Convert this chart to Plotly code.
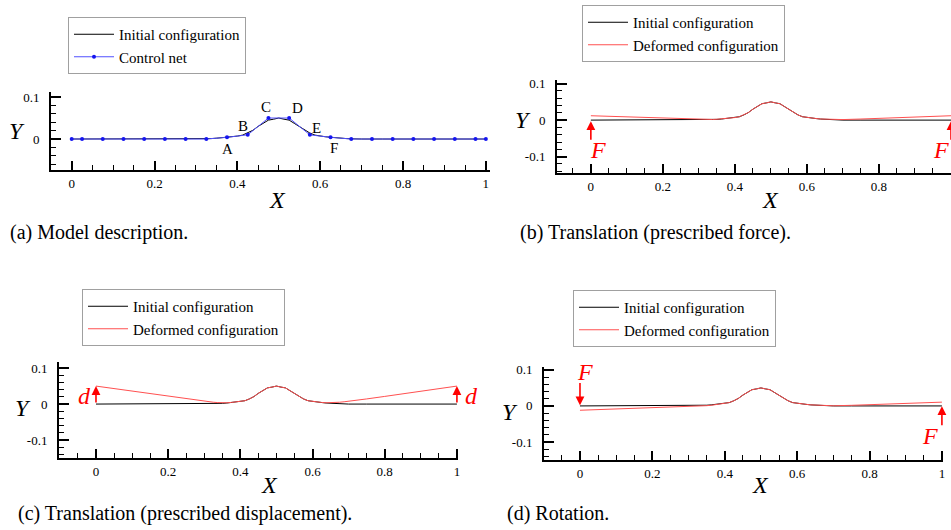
import plotly.graph_objects as go

# ---------------- data ----------------
curve_x = [0, 0.05, 0.1, 0.15, 0.2, 0.25, 0.3, 0.3125, 0.325, 0.3375, 0.35, 0.3625, 0.375, 0.3875,
           0.4, 0.4125, 0.425, 0.4375, 0.45, 0.4625, 0.475, 0.4875, 0.5, 0.5125, 0.525, 0.5375,
           0.55, 0.5625, 0.575, 0.5875, 0.6, 0.6125, 0.625, 0.6375, 0.65, 0.6625, 0.675, 0.6875,
           0.7, 0.75, 0.8, 0.85, 0.9, 0.95, 1.0]

initial_y = [0, 0, 0, 0, 0, 0, 0, 0.0001, 0.0005, 0.0011, 0.002, 0.0029, 0.0043, 0.0054,
             0.007, 0.0093, 0.0143, 0.0208, 0.03, 0.0372, 0.045, 0.0472, 0.05, 0.0472, 0.045, 0.0372,
             0.03, 0.0208, 0.0143, 0.0093, 0.007, 0.0054, 0.0043, 0.0029, 0.002, 0.0011, 0.0005, 0.0001,
             0, 0, 0, 0, 0, 0, 0]

force_y = [0.012, 0.0102, 0.0084, 0.0066, 0.0048, 0.003, 0.0015, 0.0014, 0.0015, 0.0018, 0.0024, 0.0031, 0.0044, 0.0054,
           0.007, 0.0093, 0.0143, 0.0208, 0.03, 0.0372, 0.045, 0.0472, 0.05, 0.0472, 0.045, 0.0372,
           0.03, 0.0208, 0.0143, 0.0093, 0.007, 0.0054, 0.0044, 0.0031, 0.0024, 0.0018, 0.0015, 0.0014,
           0.0015, 0.003, 0.0048, 0.0066, 0.0084, 0.0102, 0.012]

disp_y = [0.05, 0.0428, 0.0356, 0.0284, 0.0213, 0.0143, 0.0078, 0.0064, 0.0051, 0.0041, 0.0035, 0.0036, 0.0045, 0.0055,
          0.007, 0.0093, 0.0143, 0.0208, 0.03, 0.0372, 0.045, 0.0472, 0.05, 0.0472, 0.045, 0.0372,
          0.03, 0.0208, 0.0143, 0.0093, 0.007, 0.0055, 0.0045, 0.0036, 0.0035, 0.0041, 0.0051, 0.0064,
          0.0078, 0.0143, 0.0213, 0.0284, 0.0356, 0.0428, 0.05]

rot_y = [-0.012, -0.0104, -0.0087, -0.0071, -0.0055, -0.0038, -0.0021, -0.0016, -0.001, -0.0003, 0.0007, 0.0018, 0.0034, 0.0048,
         0.0066, 0.0093, 0.0143, 0.0208, 0.03, 0.0372, 0.045, 0.0472, 0.05, 0.0472, 0.045, 0.0372,
         0.03, 0.0208, 0.0143, 0.0093, 0.007, 0.0055, 0.0044, 0.003, 0.0021, 0.0012, 0.0007, 0.0004,
         0.0004, 0.0017, 0.0035, 0.0053, 0.007, 0.0087, 0.0105]

net_x = [0, 0.025, 0.075, 0.125, 0.175, 0.225, 0.275, 0.325, 0.375, 0.425, 0.475, 0.525,
         0.575, 0.625, 0.675, 0.725, 0.775, 0.825, 0.875, 0.925, 0.975, 1.0]
net_y = [0, 0, 0, 0, 0, 0, 0, 0, 0.004, 0.01, 0.05, 0.05, 0.01, 0.004, 0, 0, 0, 0, 0, 0, 0, 0]

point_labels = ["A", "B", "C", "D", "E", "F"]
point_label_idx = [8, 9, 10, 11, 12, 13]

x_tickvals = [0, 0.2, 0.4, 0.6, 0.8, 1]
x_ticktext = ["0", "0.2", "0.4", "0.6", "0.8", "1"]
y_tickvals = [-0.1, 0, 0.1]
y_ticktext = ["-0.1", "0", "0.1"]

captions = ["(a) Model description.", "(b) Translation (prescribed force).",
            "(c) Translation (prescribed displacement).", "(d) Rotation."]
legend_names = ["Initial configuration", "Control net", "Deformed configuration"]

# ---------------- style ----------------
FONT = "Liberation Serif"
W, H = 951, 530
RED = "#ff5050"
BLUE = "#5050ff"
X_MINOR_STEP = 0.05
Y_MINOR_STEP = 0.02

def px(x):
    return x / W

def py(y):
    return 1 - y / H

fig = go.Figure()

panels = {
    1: dict(xd=(51, 490), yd=(92, 170), xr=[-0.05, 1.01], yr=[-0.0738, 0.112]),
    2: dict(xd=(557, 951), yd=(80, 173), xr=[-0.094, 1.0], yr=[-0.145, 0.11]),
    3: dict(xd=(59, 458), yd=(362, 458), xr=[-0.1025, 1.003], yr=[-0.15, 0.117]),
    4: dict(xd=(544, 943), yd=(367, 460), xr=[-0.0994, 1.003], yr=[-0.15, 0.108]),
}

tickfont = dict(family=FONT, size=13, color="black")
hidden = dict(showline=False, showgrid=False, zeroline=False, showticklabels=False, ticks="")

for i, p in panels.items():
    sx = "" if i == 1 else str(i)
    xl, xr = p["xd"]
    yt, yb = p["yd"]
    xdom = [px(xl), min(1, px(xr))]
    ydom = [py(yb), py(yt)]
    xa = dict(domain=xdom, range=p["xr"], anchor="y" + sx,
              showline=True, linecolor="black", linewidth=2, showgrid=False, zeroline=False,
              tickfont=tickfont, ticks="inside", ticklen=9, tickwidth=2, tickcolor="black",
              tickmode="array", tickvals=x_tickvals, ticktext=x_ticktext)
    ya = dict(domain=ydom, range=p["yr"], anchor="x" + sx,
              showline=True, linecolor="black", linewidth=2, showgrid=False, zeroline=False,
              tickfont=tickfont, ticks="outside", ticklen=7, tickwidth=1, tickcolor="rgba(0,0,0,0)",
              tickmode="array", tickvals=y_tickvals, ticktext=y_ticktext)
    fig.update_layout(**{"xaxis" + sx: xa, "yaxis" + sx: ya})

    # thin strip subplots whose grid lines form the inward tick marks
    base = 5 + (i - 1) * 4
    strips = [
        # (x-grid?, length px, width px, tick spec)
        ("x", 9, 2, dict(tickmode="array", tickvals=x_tickvals)),
        ("x", 5, 1, dict(tickmode="linear", tick0=0, dtick=X_MINOR_STEP)),
        ("y", 10, 2, dict(tickmode="array", tickvals=y_tickvals)),
        ("y", 5, 1, dict(tickmode="linear", tick0=0, dtick=Y_MINOR_STEP)),
    ]
    for k, (kind, length, width, spec) in enumerate(strips):
        n = str(base + k)
        if kind == "x":
            sxa = dict(domain=xdom, range=p["xr"], anchor="y" + n, **hidden)
            sxa.update(spec)
            sxa.update(showgrid=True, gridcolor="black", gridwidth=width)
            sya = dict(domain=[py(yb), py(yb - length)], range=[0, 1], anchor="x" + n, **hidden)
        else:
            sxa = dict(domain=[px(xl), px(xl + length)], range=[0, 1], anchor="y" + n, **hidden)
            sya = dict(domain=ydom, range=p["yr"], anchor="x" + n, **hidden)
            sya.update(spec)
            sya.update(showgrid=True, gridcolor="black", gridwidth=width)
        fig.update_layout(**{"xaxis" + n: sxa, "yaxis" + n: sya})
        fig.add_trace(go.Scatter(x=[], y=[], xaxis="x" + n, yaxis="y" + n, mode="lines",
                                 showlegend=False, hoverinfo="skip"))

# ---------------- traces ----------------
fig.add_trace(go.Scatter(x=curve_x, y=initial_y, mode="lines", name=legend_names[0],
                         line=dict(color="black", width=1), xaxis="x", yaxis="y", legend="legend"))
fig.add_trace(go.Scatter(x=net_x, y=net_y, mode="lines+markers", name=legend_names[1],
                         line=dict(color=BLUE, width=1), marker=dict(color="#1515f0", size=4),
                         xaxis="x", yaxis="y", legend="legend"))

deformed = {2: force_y, 3: disp_y, 4: rot_y}
for i, yy in deformed.items():
    sx = str(i)
    lg = "legend" + sx
    fig.add_trace(go.Scatter(x=curve_x, y=initial_y, mode="lines", name=legend_names[0],
                             line=dict(color="black", width=1), xaxis="x" + sx, yaxis="y" + sx, legend=lg))
    fig.add_trace(go.Scatter(x=curve_x, y=yy, mode="lines", name=legend_names[2],
                             line=dict(color=RED, width=1), xaxis="x" + sx, yaxis="y" + sx, legend=lg))

# ---------------- legends ----------------
def legend_box(x0, y0):
    return dict(x=px(x0), y=py(y0), xanchor="left", yanchor="top", itemwidth=40,
                bgcolor="white", bordercolor="#a0a0a0", borderwidth=1,
                font=dict(family=FONT, size=15, color="black"), itemclick=False, itemdoubleclick=False)

fig.update_layout(legend=legend_box(68, 17), legend2=legend_box(582, 5),
                  legend3=legend_box(82, 289), legend4=legend_box(573, 290))

annotations = []

label_shift = [(0, -12), (-5, 9), (-2, 11), (8, 10), (7, 7), (3, -11)]
for lab, idx, (dx, dy) in zip(point_labels, point_label_idx, label_shift):
    annotations.append(dict(x=net_x[idx], y=net_y[idx], xref="x", yref="y", text=lab,
                            showarrow=False, xshift=dx, yshift=dy, xanchor="center", yanchor="middle",
                            font=dict(family=FONT, size=15, color="black")))

axis_titles = [((277, 200), (17, 131)), ((770, 200), (523, 120)),
               ((269, 485), (23, 408)), ((760, 485), (510, 412))]
for (xx, yx), (xy, yy) in axis_titles:
    annotations.append(dict(x=px(xx), y=py(yx), xref="paper", yref="paper", text="<i>X</i>",
                            showarrow=False, xanchor="center", yanchor="middle",
                            font=dict(family=FONT, size=24, color="black")))
    annotations.append(dict(x=px(xy), y=py(yy), xref="paper", yref="paper", text="<i>Y</i>",
                            showarrow=False, xanchor="center", yanchor="middle",
                            font=dict(family=FONT, size=24, color="black")))

cap_pos = [(8, 232), (518, 232), (16, 513), (505, 513)]
for c, (cx, cy) in zip(captions, cap_pos):
    annotations.append(dict(x=px(cx), y=py(cy), xref="paper", yref="paper", text=c,
                            showarrow=False, xanchor="left", yanchor="middle",
                            font=dict(family=FONT, size=20, color="black")))

arrows = [(0, -0.003, -0.058, "2"), (1, -0.003, -0.058, "2"),
          (0, 0.05, 0.0, "3"), (1, 0.05, 0.0, "3"),
          (0, 0.002, 0.068, "4"), (1, -0.001, -0.058, "4")]
for ax_, tip, tail, sx in arrows:
    annotations.append(dict(x=ax_, y=tip, ax=ax_, ay=tail, xref="x" + sx, yref="y" + sx,
                            axref="x" + sx, ayref="y" + sx, text="", showarrow=True,
                            arrowhead=2, arrowsize=1.1, arrowwidth=1.6, arrowcolor="#ff0000",
                            standoff=0, startstandoff=0))

load_labels = [("F", 598, 150), ("F", 941, 150), ("d", 84, 396), ("d", 471, 396),
               ("F", 585, 372), ("F", 930, 436)]
for t, lx, ly in load_labels:
    annotations.append(dict(x=px(lx), y=py(ly), xref="paper", yref="paper", text="<i>" + t + "</i>",
                            showarrow=False, xanchor="center", yanchor="middle",
                            font=dict(family=FONT, size=24, color="#ff0000")))

fig.update_layout(template="none", width=W, height=H, margin=dict(l=0, r=0, t=0, b=0),
                  paper_bgcolor="white", plot_bgcolor="rgba(0,0,0,0)", annotations=annotations,
                  showlegend=True)

fig.write_html("out.html", config={"displayModeBar": False},
               post_script="document.body.style.margin='0';document.body.style.overflow='hidden';")
